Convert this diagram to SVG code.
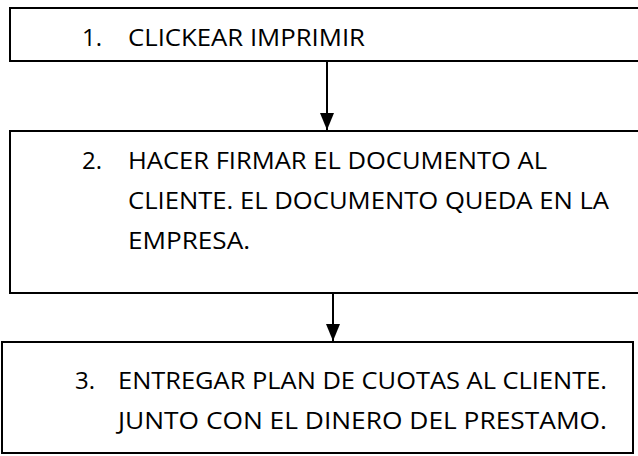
<svg xmlns="http://www.w3.org/2000/svg" width="638" height="456" viewBox="0 0 638 456">
<defs>
<style>
.box{fill:#fff;stroke:#000;stroke-width:2}
.t{font-family:"Open Sans","Noto Sans","Liberation Sans",sans-serif;font-size:24px;fill:#000}
.c{stroke:#000;stroke-width:2;fill:none}
</style>
<marker id="ah" markerWidth="17" markerHeight="14" refX="17" refY="7" orient="auto" markerUnits="userSpaceOnUse" viewBox="0 0 17 14">
<path d="M0,0 L17,7 L0,14 Z" fill="#000"/>
</marker>
</defs>
<rect width="638" height="456" fill="#fff"/>
<g id="node1">
<rect class="box" x="10" y="8" width="640" height="53"/>
<text class="t" x="82" y="46">1.</text>
<text class="t" x="128" y="46" textLength="237" lengthAdjust="spacingAndGlyphs">CLICKEAR IMPRIMIR</text>
</g>
<g id="node2">
<rect class="box" x="10" y="131" width="640" height="162"/>
<text class="t" x="82" y="169">2.</text>
<text class="t" x="128" y="169" textLength="419" lengthAdjust="spacingAndGlyphs">HACER FIRMAR EL DOCUMENTO AL</text>
<text class="t" x="128" y="209" textLength="481" lengthAdjust="spacingAndGlyphs">CLIENTE. EL DOCUMENTO QUEDA EN LA</text>
<text class="t" x="128" y="249" textLength="122" lengthAdjust="spacingAndGlyphs">EMPRESA.</text>
</g>
<g id="node3">
<rect class="box" x="2" y="342" width="631" height="111"/>
<text class="t" x="75" y="389">3.</text>
<text class="t" x="118" y="389" textLength="489" lengthAdjust="spacingAndGlyphs">ENTREGAR PLAN DE CUOTAS AL CLIENTE.</text>
<text class="t" x="118" y="429" textLength="489" lengthAdjust="spacingAndGlyphs">JUNTO CON EL DINERO DEL PRESTAMO.</text>
</g>
<g id="connectors">
<line class="c" x1="327" y1="62" x2="327" y2="130" marker-end="url(#ah)"/>
<line class="c" x1="333" y1="294" x2="333" y2="341" marker-end="url(#ah)"/>
</g>
</svg>
